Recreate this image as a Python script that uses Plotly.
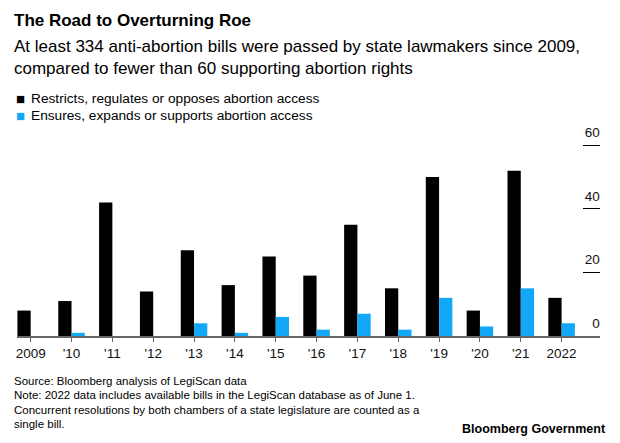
import plotly.graph_objects as go

years = ["2009", "'10", "'11", "'12", "'13", "'14", "'15", "'16", "'17", "'18", "'19", "'20", "'21", "2022"]
restricts = [8, 11, 42, 14, 27, 16, 25, 19, 35, 15, 50, 8, 52, 12]
ensures = [0, 1, 0, 0, 4, 1, 6, 2, 7, 2, 12, 3, 15, 4]
series_names = ["Restricts, regulates or opposes abortion access",
                "Ensures, expands or supports abortion access"]
y_ticks = [0, 20, 40, 60]

BLACK = "#000000"
BLUE = "#13a8f7"
FONT = "Liberation Sans"

# the page body has an 8px margin: work in window coordinates and shift
OFF = 8
W, H = 620 - OFF, 443 - OFF
L, R = 17 - OFF, 600 - OFF          # plot area in figure px
YMAX = 67
B = 336 - OFF
T = B - (336 - 145.5) * YMAX / 60

fig = go.Figure()
fig.add_trace(go.Bar(x=years, y=restricts, name=series_names[0], marker_color=BLACK,
                     marker_line_width=0))
fig.add_trace(go.Bar(x=years, y=ensures, name=series_names[1], marker_color=BLUE,
                     marker_line_width=0))

fig.update_layout(
    width=W, height=H,
    margin=dict(l=L, r=W - R, t=T, b=H - B, pad=0),
    paper_bgcolor="white", plot_bgcolor="white",
    barmode="group", bargap=0.35, bargroupgap=0,
    showlegend=False,
    font=dict(family=FONT, color="#000", size=13),
)
fig.update_xaxes(
    type="category", range=[-0.335, 13.94],
    showline=True, linecolor="#666", linewidth=1.5,
    ticks="outside", ticklen=4, tickcolor="#666", tickwidth=1,
    showgrid=False, tickfont=dict(size=13.5, family=FONT, color="#111"),
    fixedrange=True,
)
fig.update_yaxes(
    range=[0, YMAX], side="right", tickvals=y_ticks,
    ticks="inside", ticklen=17, tickcolor="#000", tickwidth=1.2,
    ticklabelposition="inside", ticklabelshift=-13, ticklabelstandoff=-17,
    showgrid=False, zeroline=False, showline=False,
    tickfont=dict(size=13.5, family=FONT, color="#111"),
    fixedrange=True,
)

pw = R - L
ph = B - T
def px(xw):
    return (xw - OFF - L) / pw
def py(yw):
    return (B - (yw - OFF)) / ph

def txt(xw, yw, s, size, color="#000", bold=False, xanchor="left"):
    fig.add_annotation(xref="paper", yref="paper", x=px(xw), y=py(yw),
                       text=(f"<b>{s}</b>" if bold else s),
                       showarrow=False, xanchor=xanchor, yanchor="middle",
                       font=dict(size=size, color=color, family=FONT))

txt(12, 21, "The Road to Overturning Roe", 17, bold=True)
txt(12, 47, "At least 334 anti-abortion bills were passed by state lawmakers since 2009,", 17)
txt(12, 69, "compared to fewer than 60 supporting abortion rights", 17)

legend_rows = [(99, BLACK, series_names[0]), (116, BLUE, series_names[1])]
for yy, col, name in legend_rows:
    txt(13.5, yy, "■", 15, color=col)
    txt(28.5, yy, name, 13.7)

notes = ["Source: Bloomberg analysis of LegiScan data",
         "Note: 2022 data includes available bills in the LegiScan database as of June 1.",
         "Concurrent resolutions by both chambers of a state legislature are counted as a",
         "single bill."]
for i, n in enumerate(notes):
    txt(12, 381 + i * 14.3, n, 11.5)

txt(608, 429, "Bloomberg Government", 12.5, bold=True, xanchor="right")

fig.write_html("out.html")
